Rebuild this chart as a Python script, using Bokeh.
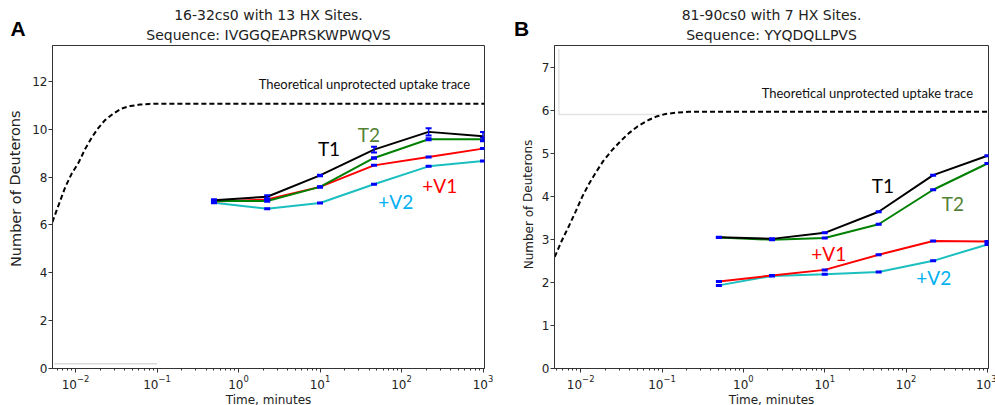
from bokeh.plotting import figure
from bokeh.models import Range1d, FixedTicker, Label, Title
from bokeh.layouts import row
from bokeh.embed import file_html
from bokeh.resources import INLINE
from bokeh.core.properties import value

# ---------------- data ----------------
times = [0.5, 2.25, 10, 46, 215, 1000]

# Panel A: 16-32cs0
a_t1 = [7.03, 7.18, 8.07, 9.15, 9.89, 9.71]
a_t1_err = [0.04, 0.06, 0.03, 0.12, 0.15, 0.17]
a_t2 = [7.00, 7.00, 7.59, 8.80, 9.58, 9.58]
a_t2_err = [0.03, 0.03, 0.03, 0.03, 0.04, 0.08]
a_v1 = [6.98, 7.06, 7.59, 8.49, 8.84, 9.19]
a_v2 = [6.93, 6.68, 6.92, 7.70, 8.45, 8.67]
a_theory_t = [0.0052, 0.006, 0.0075, 0.009, 0.011, 0.013, 0.016, 0.019, 0.023,
              0.029, 0.037, 0.047, 0.062, 0.08, 0.1, 1043]
a_theory_d = [6.12, 6.70, 7.59, 8.15, 8.63, 9.15, 9.68, 10.05, 10.38,
              10.65, 10.87, 10.97, 11.03, 11.06, 11.07, 11.07]

# Panel B: 81-90cs0
b_t1 = [3.05, 3.01, 3.15, 3.64, 4.49, 4.94]
b_t2 = [3.04, 2.99, 3.03, 3.35, 4.15, 4.76]
b_v1 = [2.02, 2.16, 2.29, 2.64, 2.96, 2.95]
b_v2 = [1.93, 2.15, 2.19, 2.24, 2.50, 2.88]
b_theory_t = [0.0048, 0.0058, 0.0071, 0.0087, 0.0104, 0.0125, 0.0151, 0.019, 0.0243,
              0.031, 0.0389, 0.05, 0.0684, 0.085, 0.11, 0.15, 0.212, 1050]
b_theory_d = [2.59, 2.95, 3.29, 3.65, 3.98, 4.27, 4.53, 4.82, 5.07,
              5.28, 5.46, 5.62, 5.77, 5.85, 5.91, 5.94, 5.96, 5.96]

x_major = [0.01, 0.1, 1, 10, 100, 1000]
x_minor = [m * 10.0 ** e for e in range(-3, 4) for m in range(2, 10)]

COL_LINES = {"T1": "#000000", "T2": "#008000", "+V1": "#ff0000", "+V2": "#1cbfbf"}
COL_TEXT = {"T1": "#000000", "T2": "#548235", "+V1": "#ff0000", "+V2": "#00b0f0"}
FONT = "DejaVu Sans"
CAL = "Lato"
H = 405
TOP = 45
FRAME_H = 323


def make_fig(xr, yr, yticks, frame_w, mb_left, mb_right, title1, title2):
    p = figure(x_axis_type="log", x_range=Range1d(*xr), y_range=Range1d(*yr),
               frame_width=frame_w, frame_height=FRAME_H,
               min_border_left=mb_left, min_border_right=mb_right,
               min_border_top=TOP, min_border_bottom=H - TOP - FRAME_H,
               output_backend="svg", toolbar_location=None)
    p.grid.visible = False
    p.outline_line_color = "#333333"
    p.outline_line_width = 1
    p.xaxis.ticker = FixedTicker(ticks=x_major, minor_ticks=x_minor)
    p.yaxis.ticker = FixedTicker(ticks=yticks)
    for ax in (p.xaxis, p.yaxis):
        ax.axis_line_color = "#333333"
        ax.major_tick_line_color = "#333333"
        ax.minor_tick_line_color = "#333333"
        ax.major_tick_out = 4
        ax.major_tick_in = 0
        ax.minor_tick_out = 2
        ax.minor_tick_in = 0
        ax.major_label_text_font = FONT
        ax.major_label_text_font_size = "12px"
        ax.major_label_text_color = "#222222"
        ax.major_label_standoff = 2
    p.yaxis.major_label_standoff = 1
    p.yaxis.minor_tick_line_color = None
    p.xaxis.axis_label = "Time, minutes"
    p.xaxis.axis_label_text_font = FONT
    p.xaxis.axis_label_text_font_style = "normal"
    p.xaxis.axis_label_text_font_size = "12px"
    p.xaxis.axis_label_text_color = "#222222"
    p.xaxis.axis_label_standoff = 1
    p.add_layout(Title(text=title2, align="center", text_font=FONT, text_font_size="14px",
                       text_font_style="normal", text_color="#222222", standoff=5), "above")
    p.add_layout(Title(text=title1, align="center", text_font=FONT, text_font_size="14px",
                       text_font_style="normal", text_color="#222222", standoff=0), "above")
    return p


def strip(width, letter, letter_offset, ylab, yx, yy, ysize):
    # narrow text-only figure: panel letter as its title, y-axis label as rotated text
    s = figure(width=width, height=H, x_range=Range1d(0, width), y_range=Range1d(0, FRAME_H),
               x_axis_location=None, y_axis_location=None, min_border=0,
               min_border_top=TOP, min_border_bottom=H - TOP - FRAME_H,
               output_backend="svg", toolbar_location=None)
    s.title.visible = False
    s.grid.visible = False
    s.outline_line_color = None
    s.add_layout(Title(text=letter, align="left", offset=letter_offset,
                       text_font="Liberation Sans", text_font_size="21px",
                       text_font_style="bold", text_color="black", standoff=11), "above")
    s.text(x=[yx], y=[yy], text=[ylab], text_font=value(FONT), text_font_size=ysize,
           text_color="#222222", text_align="center", text_baseline="middle",
           angle=1.5708)
    return s


def add_series(p, ys, key, errs=None):
    p.line(times, ys, line_color=COL_LINES[key], line_width=2)
    if errs is not None:
        lo = [y - e for y, e in zip(ys, errs)]
        hi = [y + e for y, e in zip(ys, errs)]
        p.segment(times, lo, times, hi, line_color="#0000ff", line_width=1.5)
        p.scatter(times, lo, marker="dash", size=6, line_color="#0000ff", line_width=2)
        p.scatter(times, hi, marker="dash", size=6, line_color="#0000ff", line_width=2)
    else:
        p.scatter(times, ys, marker="dash", size=6, line_color="#0000ff", line_width=3)


def txt(p, x, y, text, size, color="#222222", font=FONT):
    p.add_layout(Label(x=x, y=y, text=text, text_font=font, text_font_size=size,
                       text_color=color, text_align="center", text_baseline="middle"))


# ---------------- panel A ----------------
sa = strip(29, "A", 10, "Number of Deuterons", 15, 178, "14.5px")
pa = make_fig((0.00522, 1043), (0, 13.5), [0, 2, 4, 6, 8, 10, 12], 432, 22, 10,
              "16-32cs0 with 13 HX Sites.", "Sequence: IVGGQEAPRSKWPWQVS")
pa.line([0.0055, 0.1], [0.2, 0.2], line_color="#d9d9d9", line_width=1.5)
pa.line(a_theory_t, a_theory_d, line_color="black", line_width=2, line_dash="5 3")
add_series(pa, a_v2, "+V2")
add_series(pa, a_v1, "+V1")
add_series(pa, a_t2, "T2", a_t2_err)
add_series(pa, a_t1, "T1", a_t1_err)

txt(pa, 35.0, 11.9, "Theoretical unprotected uptake trace", "13px", "#111111", CAL)
txt(pa, 12.9, 9.19, "T1", "19px", COL_TEXT["T1"], CAL)
txt(pa, 39.9, 9.77, "T2", "19px", COL_TEXT["T2"], CAL)
txt(pa, 295, 7.66, "+V1", "19px", COL_TEXT["+V1"], CAL)
txt(pa, 84.9, 6.96, "+V2", "19px", COL_TEXT["+V2"], CAL)

# ---------------- panel B ----------------
sb = strip(44, "B", 19.5, "Number of Deuterons", 34, 162, "12px")
pb = make_fig((0.00477, 1030), (0, 7.5), [0, 1, 2, 3, 4, 5, 6, 7], 434, 16, 8,
              "81-90cs0 with 7 HX Sites.", "Sequence: YYQDQLLPVS")
pb.line([0.0054, 0.0054, 0.1], [7.42, 5.9, 5.9], line_color="#e3e3e3", line_width=1.5)
pb.line(b_theory_t, b_theory_d, line_color="black", line_width=2, line_dash="5 3")
add_series(pb, b_v2, "+V2")
add_series(pb, b_v1, "+V1")
add_series(pb, b_t2, "T2")
add_series(pb, b_t1, "T1")

txt(pb, 33.4, 6.40, "Theoretical unprotected uptake trace", "13px", "#111111", CAL)
txt(pb, 52, 4.24, "T1", "19px", COL_TEXT["T1"], CAL)
txt(pb, 377, 3.84, "T2", "19px", COL_TEXT["T2"], CAL)
txt(pb, 11.2, 2.67, "+V1", "19px", COL_TEXT["+V1"], CAL)
txt(pb, 219, 2.12, "+V2", "19px", COL_TEXT["+V2"], CAL)

layout = row(sa, pa, sb, pb)
open("out.html", "w").write(file_html(layout, INLINE))
